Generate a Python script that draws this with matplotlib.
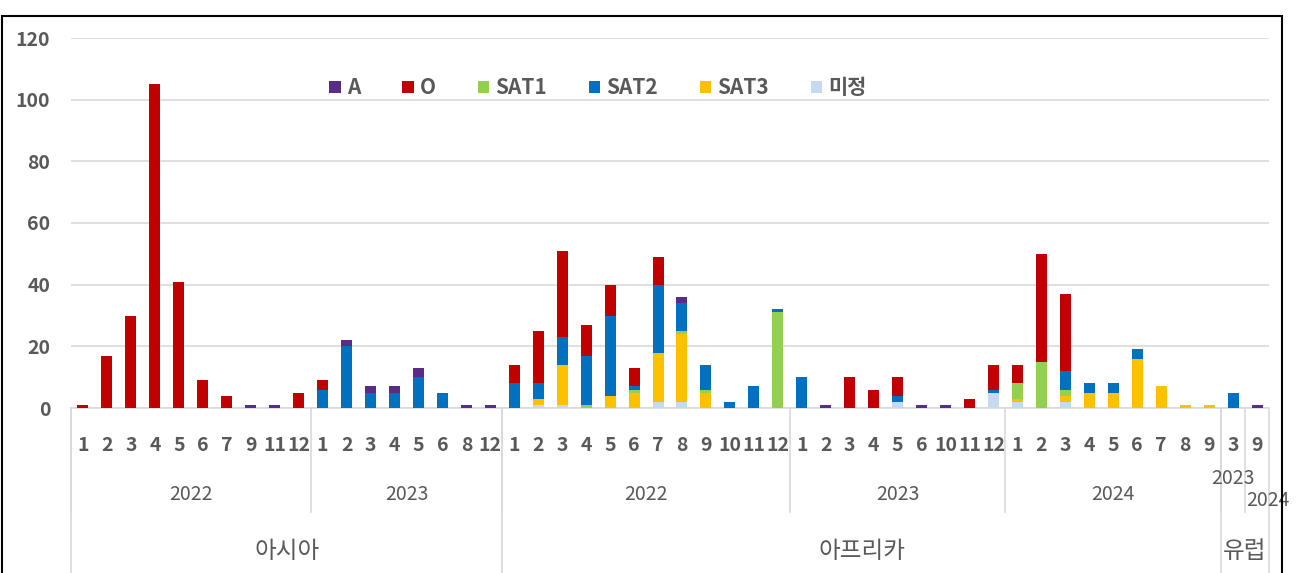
import matplotlib
matplotlib.use("Agg")
import numpy as np
import matplotlib.pyplot as plt
from matplotlib.lines import Line2D
from matplotlib.patches import Rectangle

plt.rcParams['font.family'] = ['Noto Sans CJK KR', 'DejaVu Sans']

# month labels, grouped by region / year
months = ['1', '2', '3', '4', '5', '6', '7', '9', '11', '12',
          '1', '2', '3', '4', '5', '6', '8', '12',
          '1', '2', '3', '4', '5', '6', '7', '8', '9', '10', '11', '12',
          '1', '2', '3', '4', '5', '6', '10', '11', '12',
          '1', '2', '3', '4', '5', '6', '7', '8', '9',
          '3', '9']
# (label, number of months) for each year block
years = [('2022', 10), ('2023', 8),
         ('2022', 12), ('2023', 9), ('2024', 9),
         ('2023', 1), ('2024', 1)]
regions = [('아시아', 18), ('아프리카', 30), ('유럽', 2)]

# serotype counts per month
A = [0, 0, 0, 0, 0, 0, 0, 1, 1, 0,
     0, 2, 2, 2, 3, 0, 1, 1,
     0, 0, 0, 0, 0, 0, 0, 2, 0, 0, 0, 0,
     0, 1, 0, 0, 0, 1, 1, 0, 0,
     0, 0, 0, 0, 0, 0, 0, 0, 0,
     0, 1]
O = [1, 17, 30, 105, 41, 9, 4, 0, 0, 5,
     3, 0, 0, 0, 0, 0, 0, 0,
     6, 17, 28, 10, 10, 6, 9, 0, 0, 0, 0, 0,
     0, 0, 10, 6, 6, 0, 0, 3, 8,
     6, 35, 25, 0, 0, 0, 0, 0, 0,
     0, 0]
SAT1 = [0, 0, 0, 0, 0, 0, 0, 0, 0, 0,
        0, 0, 0, 0, 0, 0, 0, 0,
        0, 0, 0, 1, 0, 1, 0, 1, 1, 0, 0, 31,
        0, 0, 0, 0, 0, 0, 0, 0, 0,
        5, 15, 2, 0, 0, 0, 0, 0, 0,
        0, 0]
SAT2 = [0, 0, 0, 0, 0, 0, 0, 0, 0, 0,
        6, 20, 5, 5, 10, 5, 0, 0,
        8, 5, 9, 16, 26, 1, 22, 9, 8, 2, 7, 1,
        10, 0, 0, 0, 2, 0, 0, 0, 1,
        0, 0, 6, 3, 3, 3, 0, 0, 0,
        5, 0]
SAT3 = [0, 0, 0, 0, 0, 0, 0, 0, 0, 0,
        0, 0, 0, 0, 0, 0, 0, 0,
        0, 2, 13, 0, 4, 5, 16, 22, 5, 0, 0, 0,
        0, 0, 0, 0, 0, 0, 0, 0, 0,
        1, 0, 2, 5, 5, 16, 7, 1, 1,
        0, 0]
undet = [0, 0, 0, 0, 0, 0, 0, 0, 0, 0,
         0, 0, 0, 0, 0, 0, 0, 0,
         0, 1, 1, 0, 0, 0, 2, 2, 0, 0, 0, 0,
         0, 0, 0, 0, 2, 0, 0, 0, 5,
         2, 0, 2, 0, 0, 0, 0, 0, 0,
         0, 0]

series = {'A': A, 'O': O, 'SAT1': SAT1, 'SAT2': SAT2, 'SAT3': SAT3, '미정': undet}
colors = {'A': '#5B2C83', 'O': '#C00000', 'SAT1': '#92D050',
          'SAT2': '#0070C0', 'SAT3': '#FFC000', '미정': '#C5D9F1'}
stack_order = ['미정', 'SAT3', 'SAT1', 'SAT2', 'O', 'A']
legend_order = ['A', 'O', 'SAT1', 'SAT2', 'SAT3', '미정']

grey = '#595959'
line_grey = '#D9D9D9'

fig = plt.figure(figsize=(12.98, 5.73), dpi=100)
ax = fig.add_axes([71 / 1298, (573 - 408) / 573, 1198 / 1298, 370 / 573])

x = np.arange(len(months))
bottom = np.zeros(len(months))
bars = {}
for name in stack_order:
    vals = np.array(series[name], dtype=float)
    bars[name] = ax.bar(x, vals, 0.46, bottom=bottom, color=colors[name], zorder=3)
    bottom += vals

ax.set_xlim(-0.5, len(months) - 0.5)
ax.set_ylim(0, 120)
ax.set_yticks(range(0, 121, 20))
ax.yaxis.grid(True, color=line_grey, linewidth=1.2, zorder=0)
ax.set_axisbelow(True)
for s in ['top', 'right', 'left']:
    ax.spines[s].set_visible(False)
ax.spines['bottom'].set_color(line_grey)
ax.spines['bottom'].set_linewidth(1.2)
ax.tick_params(axis='y', length=0, pad=15, labelsize=14, labelcolor=grey)
for t in ax.get_yticklabels():
    t.set_fontweight('bold')
ax.set_xticks(x)
ax.set_xticklabels(months)
ax.tick_params(axis='x', length=0, pad=20, labelsize=14, labelcolor=grey)
for t in ax.get_xticklabels():
    t.set_fontweight('bold')

tr = ax.get_xaxis_transform()
year_bottom = (408 - 512) / 370
region_bottom = (408 - 575) / 370

# year labels and separators
pos = 0
for i, (lab, n) in enumerate(years):
    cx = pos + (n - 1) / 2
    ypos = (408 - 494) / 370
    if i == len(years) - 2:
        ypos = (408 - 478) / 370
    elif i == len(years) - 1:
        ypos = (408 - 500) / 370
        cx += 0.45
    ax.text(cx, ypos, lab, transform=tr, ha='center', va='center',
            fontsize=14, color=grey, clip_on=False)
    ax.add_line(Line2D([pos - 0.5, pos - 0.5], [0, year_bottom], transform=tr,
                       color=line_grey, linewidth=1.2, clip_on=False))
    pos += n

# region labels and separators
pos = 0
for lab, n in regions:
    cx = pos + (n - 1) / 2
    ax.text(cx, (408 - 551) / 370, lab, transform=tr, ha='center', va='center',
            fontsize=17, color=grey, clip_on=False)
    ax.add_line(Line2D([pos - 0.5, pos - 0.5], [0, region_bottom], transform=tr,
                       color=line_grey, linewidth=1.2, clip_on=False))
    pos += n
ax.add_line(Line2D([pos - 0.5, pos - 0.5], [0, region_bottom], transform=tr,
                   color=line_grey, linewidth=1.2, clip_on=False))

leg = ax.legend([bars[k] for k in legend_order], legend_order, ncol=6,
                loc='center', bbox_to_anchor=(0.44, 0.865), frameon=False,
                handlelength=0.55, handleheight=0.55, handletextpad=0.3,
                columnspacing=2.0, prop={'size': 15, 'weight': 'bold'})
for t in leg.get_texts():
    t.set_color(grey)

# outer frame
fig.patches.append(Rectangle((2 / 1298, -0.01), 1280 / 1298, (573 - 16) / 573 + 0.01,
                             transform=fig.transFigure, fill=False,
                             edgecolor='black', linewidth=1.5))

fig.savefig('out.png', dpi=100)
